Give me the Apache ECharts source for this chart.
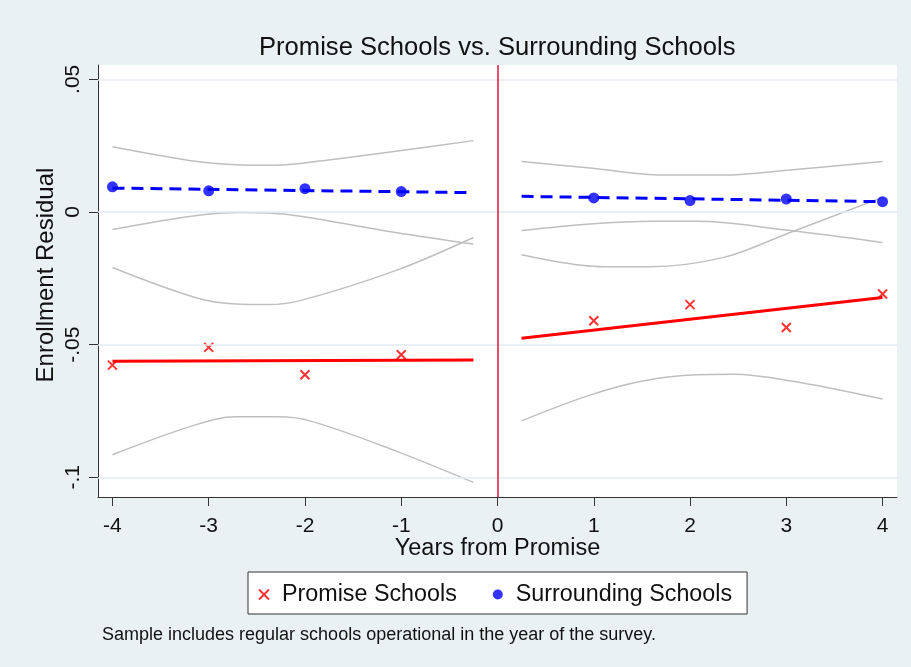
<!DOCTYPE html>
<html>
<head>
<meta charset="utf-8">
<script src="https://cdn.jsdelivr.net/npm/echarts@6/dist/echarts.min.js"></script>
<style>
  html, body { margin: 0; padding: 0; background: #e9f1f3; }
  #chart { width: 911px; height: 667px; }
</style>
</head>
<body>
<div id="chart"></div>
<script>
// Event-time years (before and after the Promise announcement)
const yearsPre = [-4, -3, -2, -1];
const yearsPost = [1, 2, 3, 4];

// Mean enrollment residuals by year
const promisePre = [-0.0577, -0.0510, -0.0613, -0.0538];
const promisePost = [-0.0410, -0.0349, -0.0435, -0.0309];
const surroundPre = [0.0095, 0.0080, 0.0088, 0.0077];
const surroundPost = [0.0053, 0.0043, 0.0049, 0.0039];

// Linear fits on each side of year 0: [x, y] endpoints
const promiseFitPre = [[-4, -0.0562], [-0.25, -0.0558]];
const promiseFitPost = [[0.25, -0.0476], [4, -0.0322]];
const surroundFitPre = [[-4, 0.0090], [-0.25, 0.0073]];
const surroundFitPost = [[0.25, 0.0059], [4, 0.0039]];

// Confidence bands around the fits
const surroundPreUpper = [[-4, 0.0246], [-3.14, 0.0191], [-2.72, 0.0178], [-2.41, 0.0176], [-2.10, 0.0181], [-1.06, 0.0229], [-0.25, 0.0269]];
const surroundPreLower = [[-4, -0.0066], [-3.14, -0.0014], [-2.66, -0.0002], [-2.38, -0.0004], [-2.03, -0.0017], [-1.06, -0.0077], [-0.25, -0.0121]];
const promisePreUpper = [[-4, -0.0209], [-3.14, -0.0322], [-2.72, -0.0347], [-2.38, -0.0349], [-2.03, -0.0332], [-1.06, -0.0221], [-0.25, -0.0096]];
const promisePreLower = [[-4, -0.0915], [-3.17, -0.0806], [-2.72, -0.0772], [-2.28, -0.0772], [-1.93, -0.0789], [-1.06, -0.0900], [-0.25, -0.1019]];
const surroundPostUpper = [[0.25, 0.0190], [0.96, 0.0166], [1.72, 0.0139], [2.35, 0.0139], [3.04, 0.0158], [4, 0.0190]];
const surroundPostLower = [[0.25, -0.0070], [0.96, -0.0045], [1.62, -0.0035], [2.07, -0.0035], [3.04, -0.0070], [4, -0.0115]];
const promisePostUpper = [[0.25, -0.0161], [1.10, -0.0206], [1.58, -0.0206], [2.35, -0.0171], [3.04, -0.0077], [4, 0.0055]];
const promisePostLower = [[0.25, -0.0787], [0.96, -0.0690], [1.52, -0.0636], [2.07, -0.0613], [2.45, -0.0611], [3.04, -0.0636], [4, -0.0705]];

// Axis ticks and labels
const xTicks = [-4, -3, -2, -1, 0, 1, 2, 3, 4];
const yTicks = [-0.1, -0.05, 0, 0.05];
const yTickLabels = ['-.1', '-.05', '0', '.05'];

const FONT = "'Liberation Sans', Arial, sans-serif";
const RED = '#ff0000';
const BLUE = '#0000ff';
const CI_GRAY = '#bfbfbf';
const GRID_COLOR = '#e3ebef';
const X_MARK = 'path://M0,0L10,10M10,0L0,10';

const pair = (xs, ys) => xs.map((x, i) => [x, ys[i]]);

function ciSeries(data) {
  return {
    type: 'line',
    data: data,
    smooth: 0.35,
    showSymbol: false,
    silent: true,
    z: 2,
    lineStyle: { color: CI_GRAY, width: 1.5 }
  };
}

const chart = echarts.init(document.getElementById('chart'), null, { renderer: 'canvas' });

chart.setOption({
  backgroundColor: '#e9f1f3',
  animation: false,
  title: [
    {
      text: 'Promise Schools vs. Surrounding Schools',
      left: 254,
      top: 30,
      textStyle: { fontFamily: FONT, fontSize: 25.6, fontWeight: 'normal', color: '#111' }
    },
    {
      text: 'Sample includes regular schools operational in the year of the survey.',
      left: 97,
      top: 621,
      textStyle: { fontFamily: FONT, fontSize: 18, fontWeight: 'normal', color: '#111' }
    }
  ],
  grid: { left: 98, right: 14, top: 65, bottom: 170, show: true, backgroundColor: '#ffffff', borderWidth: 0 },
  legend: {
    left: 248,
    top: 572,
    orient: 'horizontal',
    backgroundColor: '#ffffff',
    borderColor: '#333',
    borderWidth: 1,
    padding: [11, 15, 8, 10],
    itemWidth: 12,
    itemHeight: 10,
    itemGap: 36,
    textStyle: { fontFamily: FONT, fontSize: 23.3, color: '#111', padding: [0, 0, 0, 7] },
    data: [
      { name: 'Promise Schools', icon: X_MARK, itemStyle: { color: RED, borderColor: RED, borderWidth: 2 } },
      { name: 'Surrounding Schools', icon: 'circle', itemStyle: { color: BLUE, borderWidth: 0 } }
    ]
  },
  xAxis: {
    type: 'value',
    min: -4.15,
    max: 4.15,
    name: 'Years from Promise',
    nameLocation: 'middle',
    nameGap: 40,
    nameMoveOverlap: false,
    nameTextStyle: { fontFamily: FONT, fontSize: 23.5, color: '#111' },
    axisLine: { show: true, onZero: false, lineStyle: { color: '#333', width: 1 } },
    axisTick: { show: true, length: 9, customValues: xTicks, lineStyle: { color: '#333' } },
    axisLabel: {
      customValues: xTicks,
      margin: 19,
      fontFamily: FONT, fontSize: 21, color: '#111',
      formatter: v => String(v)
    },
    splitLine: { show: false }
  },
  yAxis: {
    type: 'value',
    min: -0.1074,
    max: 0.0554,
    name: 'Enrollment Residual',
    nameLocation: 'middle',
    nameGap: 40,
    nameMoveOverlap: false,
    nameRotate: 90,
    nameTextStyle: { fontFamily: FONT, fontSize: 24, color: '#111', padding: [0, 0, 0, 12] },
    axisLine: { show: true, onZero: false, lineStyle: { color: '#333', width: 1 } },
    axisTick: { show: true, length: 9, customValues: yTicks, lineStyle: { color: '#333' } },
    axisLabel: {
      customValues: yTicks,
      rotate: 90,
      margin: 14,
      fontFamily: FONT, fontSize: 21, color: '#111',
      formatter: v => {
        const i = yTicks.findIndex(t => Math.abs(t - v) < 1e-9);
        return i >= 0 ? yTickLabels[i] : '';
      }
    },
    splitLine: { show: false }
  },
  series: [
    // horizontal reference lines at the y ticks, and the year-0 divider
    {
      type: 'line',
      name: 'reference',
      data: [],
      silent: true,
      z: 1,
      markLine: {
        silent: true,
        symbol: 'none',
        label: { show: false },
        animation: false,
        data: yTicks.map(v => ({ yAxis: v, lineStyle: { color: GRID_COLOR, width: 1.5, type: 'solid' } }))
          .concat([{ xAxis: 0, lineStyle: { color: '#dc143c', width: 1.5, type: 'solid' } }])
      }
    },
    ciSeries(surroundPreUpper),
    ciSeries(surroundPreLower),
    ciSeries(promisePreUpper),
    ciSeries(promisePreLower),
    ciSeries(surroundPostUpper),
    ciSeries(surroundPostLower),
    ciSeries(promisePostUpper),
    ciSeries(promisePostLower),
    // fitted lines
    { type: 'line', data: promiseFitPre, showSymbol: false, silent: true, z: 3, lineStyle: { color: RED, width: 3 } },
    { type: 'line', data: promiseFitPost, showSymbol: false, silent: true, z: 3, lineStyle: { color: RED, width: 3 } },
    { type: 'line', data: surroundFitPre, showSymbol: false, silent: true, z: 3, lineStyle: { color: BLUE, width: 3, type: [12, 7] } },
    { type: 'line', data: surroundFitPost, showSymbol: false, silent: true, z: 3, lineStyle: { color: BLUE, width: 3, type: [12, 7] } },
    // yearly means
    {
      type: 'scatter',
      name: 'Promise Schools',
      data: pair(yearsPre, promisePre).concat(pair(yearsPost, promisePost)),
      symbol: X_MARK,
      symbolSize: 9,
      z: 4,
      itemStyle: { color: RED, borderColor: RED, borderWidth: 2 }
    },
    {
      type: 'scatter',
      name: 'Surrounding Schools',
      data: pair(yearsPre, surroundPre).concat(pair(yearsPost, surroundPost)),
      symbol: 'circle',
      symbolSize: 11,
      z: 4,
      itemStyle: { color: BLUE }
    }
  ]
});
</script>
</body>
</html>
